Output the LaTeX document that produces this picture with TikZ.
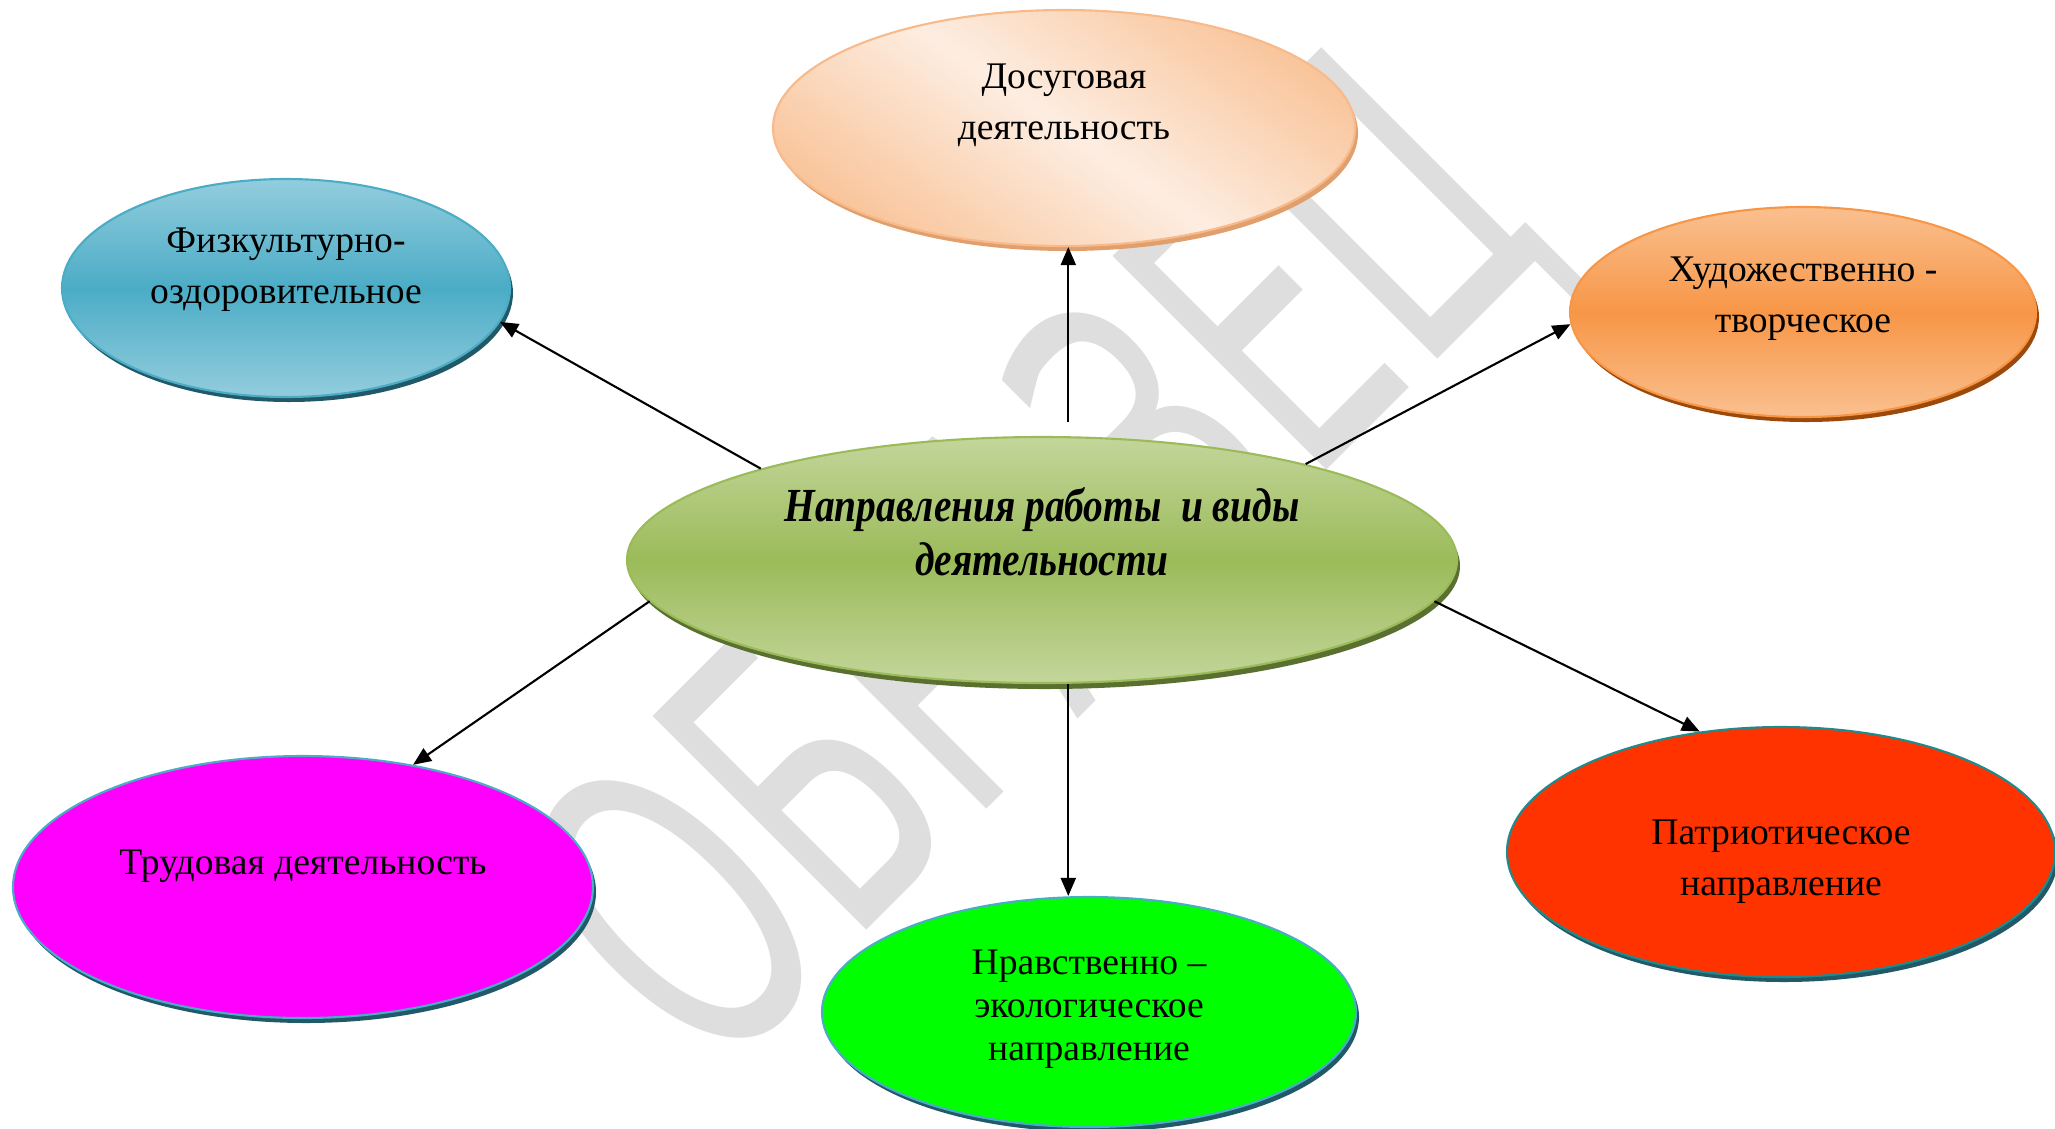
\documentclass[tikz,border=0pt]{standalone}
\usepackage{fontspec}
\setmainfont{Liberation Serif}
\newfontfamily\titlefont[FakeStretch=0.83]{Liberation Serif}
\newfontfamily\markfont[FakeStretch=0.6]{DejaVu Sans}
\usepackage{tikz}
\usetikzlibrary{arrows.meta,positioning,shapes.geometric}

\definecolor{dosLight}{HTML}{FDEDE1}
\definecolor{dosDark}{HTML}{F9C59B}
\definecolor{dosEdge}{HTML}{F8BA8A}
\definecolor{dosRim}{HTML}{E09F6C}
\definecolor{fizLight}{HTML}{93CDDD}
\definecolor{fizMid}{HTML}{4BACC6}
\definecolor{hudLight}{HTML}{FAC090}
\definecolor{hudMid}{HTML}{F79646}
\definecolor{hudRim}{HTML}{9B4A0C}
\definecolor{cenLight}{HTML}{C3D69B}
\definecolor{cenMid}{HTML}{9BBB59}
\definecolor{cenRim}{HTML}{5A7030}
\definecolor{trudFill}{HTML}{FF00FF}
\definecolor{nravFill}{HTML}{00FF00}
\definecolor{patrFill}{HTML}{FF3300}
\definecolor{edgeBlue}{HTML}{4BACC6}
\definecolor{edgeTeal}{HTML}{1F8A8C}
\definecolor{rimBlue}{HTML}{215968}
\definecolor{markGray}{HTML}{DEDEDE}

\begin{document}
\begin{tikzpicture}[node distance=4.4cm]
		\tikzstyle{bubble} = [ellipse, inner sep=0pt, line width=0.6pt]
		\tikzstyle{bubbletext} = [align=center, font=\fontsize{10.7}{14.5}\selectfont]
		\tikzstyle{arrow} = [line width=0.6pt, -{Triangle[length=1.8mm, width=1.5mm]}]
		\useasboundingbox (0,0) rectangle (20.55,-11.28);
		% watermark behind everything
		\node (stamp) [rotate=45, text=markGray, font=\markfont\fontsize{118}{118}\selectfont] at (10.48,-5.77) {ОБРАЗЕЦ};
		\node (cen) [bubble, draw=cenMid, top color=cenLight, bottom color=cenLight, middle color=cenMid, preaction={fill=cenRim, transform canvas={xshift=0.3mm, yshift=-0.6mm}}, minimum width=8.3cm, minimum height=2.46cm] at (10.42,-5.6) {};
		\node (dos) [bubble, above of=cen, xshift=0.22cm, yshift=-0.08cm, draw=dosEdge, top color=dosDark, bottom color=dosDark, middle color=dosLight, shading angle=-35, preaction={fill=dosRim, transform canvas={xshift=0.3mm, yshift=-0.5mm}}, minimum width=5.82cm, minimum height=2.36cm] {};
		\node (fiz) [bubble, above of=cen, xshift=-7.56cm, yshift=-1.68cm, draw=fizMid, top color=fizLight, bottom color=fizLight, middle color=fizMid, preaction={fill=rimBlue, transform canvas={xshift=0.3mm, yshift=-0.5mm}}, minimum width=4.48cm, minimum height=2.18cm] {};
		\node (hud) [bubble, above of=cen, xshift=7.61cm, yshift=-1.92cm, draw=hudMid, top color=hudLight, bottom color=hudLight, middle color=hudMid, preaction={fill=hudRim, transform canvas={xshift=0.3mm, yshift=-0.5mm}}, minimum width=4.66cm, minimum height=2.1cm] {};
		\node (trud) [bubble, below of=cen, xshift=-7.39cm, yshift=1.13cm, draw=edgeBlue, fill=trudFill, preaction={fill=rimBlue, transform canvas={xshift=0.3mm, yshift=-0.5mm}}, minimum width=5.8cm, minimum height=2.62cm] {};
		\node (nrav) [bubble, below of=cen, xshift=0.47cm, yshift=-0.12cm, draw=edgeBlue, fill=nravFill, preaction={fill=rimBlue, transform canvas={xshift=0.3mm, yshift=-0.5mm}}, minimum width=5.34cm, minimum height=2.3cm] {};
		\node (patr) [bubble, below of=cen, xshift=7.39cm, yshift=1.48cm, draw=edgeTeal, fill=patrFill, preaction={fill=rimBlue, transform canvas={xshift=0.3mm, yshift=-0.5mm}}, minimum width=5.48cm, minimum height=2.5cm] {};
		% texts
		\node (cenText) [bubbletext, font=\titlefont\bfseries\itshape\fontsize{13.5}{15.4}\selectfont, yshift=0.28cm] at (cen.center) {Направления работы~ и виды\\деятельности};
		\node (dosText) [bubbletext, yshift=0.23cm] at (dos.center) {Досуговая\\деятельность};
		\node (fizText) [bubbletext, yshift=0.18cm] at (fiz.center) {Физкультурно-\\оздоровительное};
		\node (hudText) [bubbletext, yshift=0.13cm] at (hud.center) {Художественно -\\творческое};
		\node (trudText) [bubbletext, yshift=0.21cm] at (trud.center) {Трудовая деятельность};
		\node (nravText) [bubbletext, font=\fontsize{10.7}{12.2}\selectfont, yshift=0.03cm] at (nrav.center) {Нравственно –\\экологическое\\направление};
		\node (patrText) [bubbletext, yshift=-0.1cm] at (patr.center) {Патриотическое\\направление};
		\draw [arrow] ([yshift=1.4mm]cen.78) -- (cen.78 |- dos.south);
		\draw [arrow] (cen.-78) -- (cen.-78 |- nrav.north);
		\draw [arrow] (cen.162) -- (fiz.-9);
		\draw [arrow] (cen.20) -- (hud.183);
		\draw [arrow] (cen.186) -- (trud.48);
		\draw [arrow] (cen.-6) -- (patr.124);
		\end{tikzpicture}
\end{document}
